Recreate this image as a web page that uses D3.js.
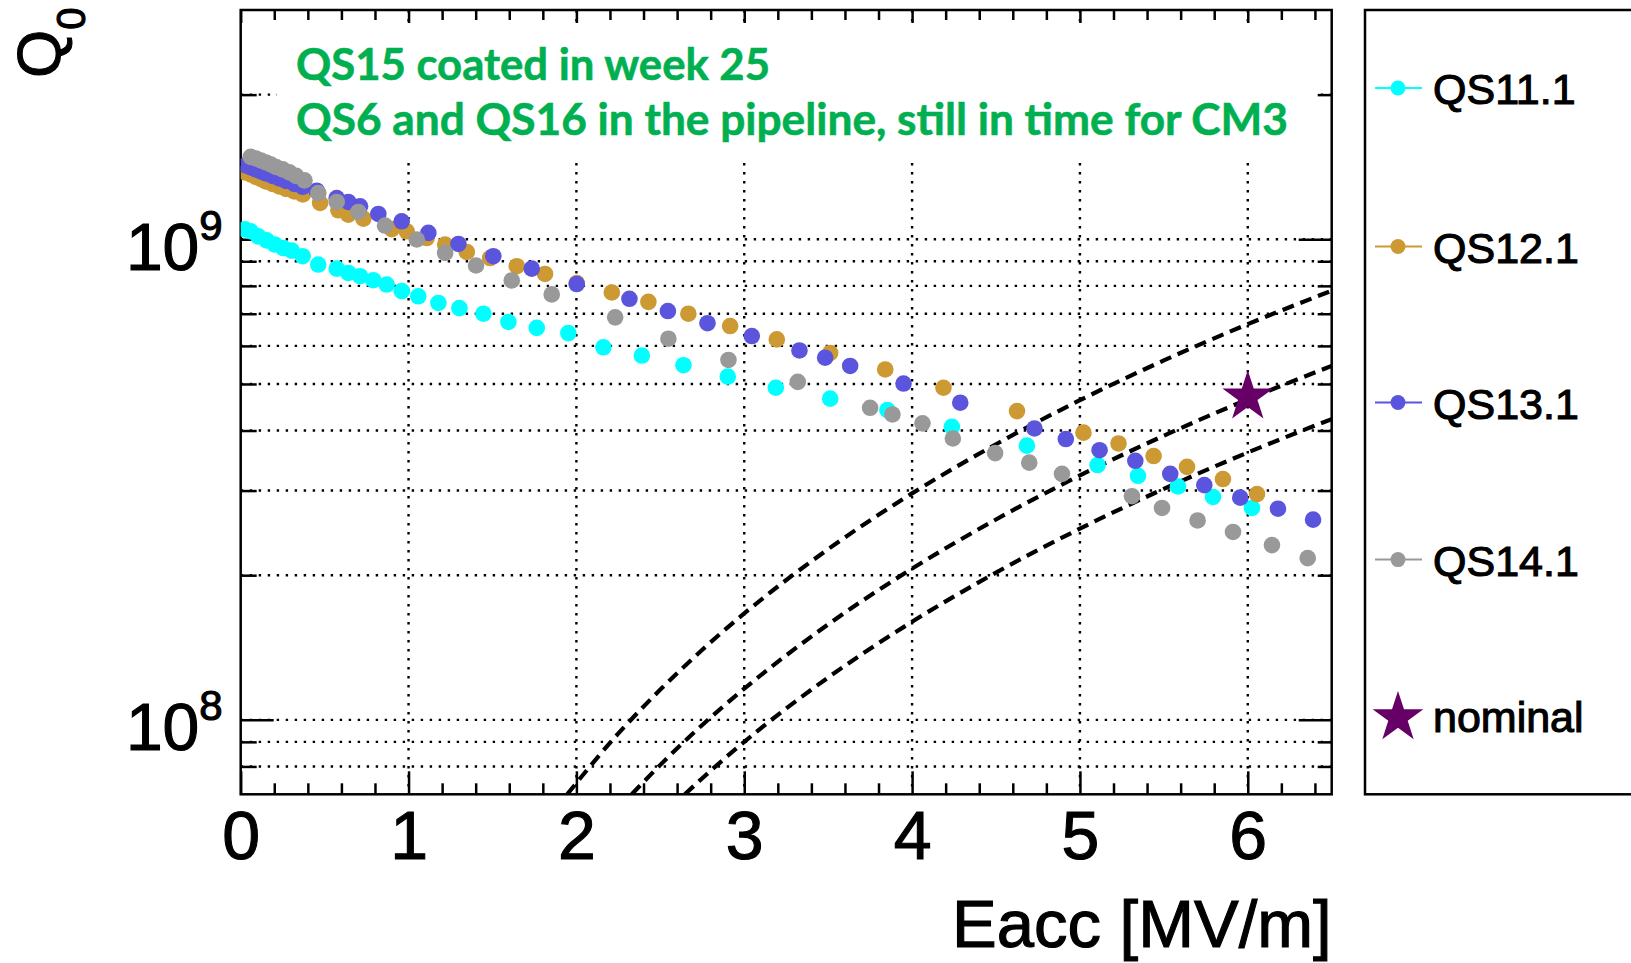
<!DOCTYPE html>
<html>
<head>
<meta charset="utf-8">
<script src="https://cdn.jsdelivr.net/npm/d3@7/dist/d3.min.js"></script>
<style>
body { margin: 0; background: #fff; }
svg { display: block; font-family: "Liberation Sans", Arial, sans-serif; }
.heavy { stroke: #000; stroke-width: 1.1; paint-order: stroke; }
</style>
</head>
<body>
<script>

// ---- data ----

var qs11E = [0.025, 0.06, 0.105, 0.155, 0.204, 0.254, 0.304, 0.369, 0.462, 0.572, 0.641, 0.711, 0.79, 0.87, 0.96, 1.058, 1.178, 1.303, 1.446, 1.595, 1.764, 1.952, 2.161, 2.39, 2.638, 2.902, 3.188, 3.512, 3.853, 4.237, 4.684, 5.105, 5.346, 5.584, 5.793, 6.025];
var qs11Q = [1.049e9, 1.039e9, 1.014e9, 9.95e8, 9.75e8, 9.59e8, 9.47e8, 9.22e8, 8.86e8, 8.69e8, 8.51e8, 8.38e8, 8.22e8, 8.05e8, 7.80e8, 7.61e8, 7.37e8, 7.19e8, 7.0e8, 6.73e8, 6.54e8, 6.38e8, 5.96e8, 5.73e8, 5.47e8, 5.18e8, 4.91e8, 4.66e8, 4.41e8, 4.07e8, 3.72e8, 3.39e8, 3.22e8, 3.06e8, 2.91e8, 2.76e8];

var qs12E = [0.03, 0.06, 0.09, 0.12, 0.15, 0.19, 0.23, 0.27, 0.32, 0.37, 0.473, 0.582, 0.641, 0.731, 0.9, 0.989, 1.108, 1.218, 1.347, 1.486, 1.645, 1.813, 2.002, 2.211, 2.429, 2.667, 2.916, 3.194, 3.512, 3.84, 4.187, 4.625, 5.021, 5.23, 5.439, 5.638, 5.852, 6.055];
var qs12Q = [1.377e9, 1.365e9, 1.348e9, 1.336e9, 1.32e9, 1.304e9, 1.288e9, 1.273e9, 1.258e9, 1.24e9, 1.19e9, 1.149e9, 1.125e9, 1.104e9, 1.05e9, 1.039e9, 1.006e9, 9.75e8, 9.41e8, 9.14e8, 8.79e8, 8.47e8, 8.11e8, 7.75e8, 7.41e8, 7.0e8, 6.60e8, 6.19e8, 5.80e8, 5.36e8, 4.91e8, 4.39e8, 3.96e8, 3.76e8, 3.54e8, 3.36e8, 3.17e8, 2.95e8];

var qs13E = [0.03, 0.06, 0.09, 0.12, 0.15, 0.19, 0.23, 0.27, 0.32, 0.37, 0.453, 0.572, 0.641, 0.711, 0.82, 0.959, 1.118, 1.297, 1.505, 1.734, 2.002, 2.316, 2.545, 2.781, 3.045, 3.329, 3.482, 3.631, 3.949, 4.287, 4.729, 4.916, 5.117, 5.33, 5.538, 5.741, 5.955, 6.18, 6.389];
var qs13Q = [1.425e9, 1.411e9, 1.398e9, 1.384e9, 1.371e9, 1.355e9, 1.339e9, 1.323e9, 1.304e9, 1.286e9, 1.262e9, 1.218e9, 1.196e9, 1.171e9, 1.129e9, 1.09e9, 1.031e9, 9.78e8, 9.22e8, 8.69e8, 8.07e8, 7.52e8, 7.09e8, 6.69e8, 6.29e8, 5.87e8, 5.67e8, 5.45e8, 5.01e8, 4.57e8, 4.04e8, 3.84e8, 3.64e8, 3.46e8, 3.25e8, 3.08e8, 2.90e8, 2.75e8, 2.61e8];

var qs14E = [0.06, 0.09, 0.12, 0.15, 0.18, 0.21, 0.25, 0.29, 0.33, 0.38, 0.462, 0.572, 0.701, 0.86, 1.049, 1.218, 1.402, 1.615, 1.853, 2.231, 2.548, 2.906, 3.319, 3.75, 3.883, 4.062, 4.243, 4.495, 4.698, 4.893, 5.31, 5.489, 5.701, 5.912, 6.144, 6.357];
var qs14Q = [1.484e9, 1.473e9, 1.459e9, 1.445e9, 1.431e9, 1.414e9, 1.398e9, 1.378e9, 1.355e9, 1.326e9, 1.248e9, 1.196e9, 1.14e9, 1.068e9, 9.99e8, 9.37e8, 8.82e8, 8.21e8, 7.68e8, 6.88e8, 6.21e8, 5.61e8, 5.05e8, 4.46e8, 4.32e8, 4.14e8, 3.85e8, 3.59e8, 3.43e8, 3.25e8, 2.92e8, 2.76e8, 2.60e8, 2.46e8, 2.31e8, 2.17e8];

var nominalE = 6;
var nominalQ = 4.7e8;

// dashed limit curves
var limit1E = [1.945, 2.25, 2.5, 2.75, 3, 3.5, 4, 4.5, 5, 5.5, 6, 6.5];
var limit1Q = [7.0e7, 9.37e7, 1.156e8, 1.399e8, 1.665e8, 2.266e8, 2.96e8, 3.746e8, 4.625e8, 5.596e8, 6.66e8, 7.816e8];
var limit2E = [2.33, 2.5, 2.75, 3, 3.5, 4, 4.5, 5, 5.5, 6, 6.5];
var limit2Q = [7.0e7, 8.06e7, 9.76e7, 1.161e8, 1.58e8, 2.064e8, 2.612e8, 3.225e8, 3.902e8, 4.644e8, 5.45e8];
var limit3E = [2.646, 2.75, 3, 3.5, 4, 4.5, 5, 5.5, 6, 6.5];
var limit3Q = [7.0e7, 7.56e7, 9.0e7, 1.225e8, 1.6e8, 2.025e8, 2.5e8, 3.025e8, 3.6e8, 4.225e8];

var xTickLabels = [0, 1, 2, 3, 4, 5, 6];
var yMajorTicks = [1e8, 1e9];
var yMinorTicks = [8e7, 9e7, 2e8, 3e8, 4e8, 5e8, 6e8, 7e8, 8e8, 9e8, 2e9];
var yGridLines = [8e7, 9e7, 1e8, 2e8, 3e8, 4e8, 5e8, 6e8, 7e8, 8e8, 9e8, 1e9, 2e9];
var xGridLines = [1, 2, 3, 4, 5, 6];

var seriesNames = ['QS11.1', 'QS12.1', 'QS13.1', 'QS14.1'];
var seriesColors = ['#00ffff', '#cc9933', '#5b55dd', '#999999'];
var noteLines = ['QS15 coated in week 25', 'QS6 and QS16 in the pipeline, still in time for CM3'];

// ---- layout ----

var width = 1631, height = 963;
var plot = { left: 240.7, right: 1331.7, top: 10, bottom: 794.3 };

var x = d3.scaleLinear().domain([0, 6.5]).range([plot.left, plot.right]);
var y = d3.scaleLog().domain([7e7, 3e9]).range([plot.bottom, plot.top]);

var svg = d3.select('body').append('svg')
    .attr('width', width)
    .attr('height', height);

svg.append('clipPath').attr('id', 'clip')
    .append('rect')
    .attr('x', plot.left).attr('y', plot.top)
    .attr('width', plot.right - plot.left).attr('height', plot.bottom - plot.top);

// grid
var grid = svg.append('g')
    .attr('stroke', '#000')
    .attr('stroke-width', 2.4)
    .attr('stroke-dasharray', '2.4 6.6');

grid.selectAll('.hgrid').data(yGridLines).enter().append('line')
    .attr('x1', plot.left).attr('x2', plot.right)
    .attr('y1', function(d) { return y(d); })
    .attr('y2', function(d) { return y(d); });

grid.selectAll('.vgrid').data(xGridLines).enter().append('line')
    .attr('y1', plot.top).attr('y2', plot.bottom)
    .attr('x1', function(d) { return x(d); })
    .attr('x2', function(d) { return x(d); });

// white box behind the note
svg.append('rect')
    .attr('x', 277).attr('y', 24)
    .attr('width', 1043).attr('height', 134)
    .attr('fill', '#fff');

svg.selectAll('.note').data(noteLines).enter().append('text')
    .attr('x', 296)
    .attr('y', function(d, i) { return 80 + i * 55; })
    .attr('font-family', 'Lato, "Open Sans", sans-serif')
    .attr('font-weight', 700)
    .attr('font-size', 44)
    .attr('fill', '#00b050')
    .attr('stroke', '#00b050')
    .attr('stroke-width', 0.6)
    .attr('textLength', function(d, i) { return i ? 992 : 474; })
    .attr('lengthAdjust', 'spacingAndGlyphs')
    .text(function(d) { return d; });

// axes
function styleAxis(g) {
    g.select('.domain').remove();
    g.selectAll('.tick line').attr('stroke', '#000').attr('stroke-width', 2.5);
    g.attr('font-family', null).attr('font-size', null);
}

var xMinor = d3.range(0.2, 6.5, 0.2).filter(function(d) { return Math.abs(d - Math.round(d)) > 0.01; });

svg.append('g')
    .attr('transform', 'translate(0,' + plot.bottom + ')')
    .call(d3.axisBottom(x).tickValues(xTickLabels).tickSizeInner(-23).tickSizeOuter(0).tickPadding(16).tickFormat(d3.format('d')))
    .call(styleAxis)
    .selectAll('text').attr('font-size', 68).attr('fill', '#000').attr('class', 'heavy');

svg.append('g')
    .attr('transform', 'translate(0,' + plot.bottom + ')')
    .call(d3.axisBottom(x).tickValues(xMinor).tickSizeInner(-11).tickSizeOuter(0).tickFormat(''))
    .call(styleAxis);

svg.append('g')
    .attr('transform', 'translate(0,' + plot.top + ')')
    .call(d3.axisTop(x).tickValues(xTickLabels).tickSizeInner(-13).tickSizeOuter(0).tickFormat(''))
    .call(styleAxis);

svg.append('g')
    .attr('transform', 'translate(0,' + plot.top + ')')
    .call(d3.axisTop(x).tickValues(xMinor).tickSizeInner(-10).tickSizeOuter(0).tickFormat(''))
    .call(styleAxis);

var yLeft = svg.append('g')
    .attr('transform', 'translate(' + plot.left + ',0)')
    .call(d3.axisLeft(y).tickValues(yMajorTicks).tickSizeInner(-33).tickSizeOuter(0).tickPadding(18).tickFormat(''))
    .call(styleAxis);

yLeft.selectAll('.tick text')
    .attr('dy', null)
    .attr('y', 30)
    .attr('fill', '#000')
    .attr('class', 'heavy')
    .each(function(d) {
        var t = d3.select(this);
        t.append('tspan').attr('font-size', 66).text('10');
        t.append('tspan').attr('font-size', 42).attr('dy', -30).text(Math.round(Math.log10(d)));
    });

svg.append('g')
    .attr('transform', 'translate(' + plot.left + ',0)')
    .call(d3.axisLeft(y).tickValues(yMinorTicks).tickSizeInner(-16).tickSizeOuter(0).tickFormat(''))
    .call(styleAxis);

svg.append('g')
    .attr('transform', 'translate(' + plot.right + ',0)')
    .call(d3.axisRight(y).tickValues(yMajorTicks).tickSizeInner(-33).tickSizeOuter(0).tickFormat(''))
    .call(styleAxis);

svg.append('g')
    .attr('transform', 'translate(' + plot.right + ',0)')
    .call(d3.axisRight(y).tickValues(yMinorTicks).tickSizeInner(-14).tickSizeOuter(0).tickFormat(''))
    .call(styleAxis);

// frame
svg.append('rect')
    .attr('x', plot.left).attr('y', plot.top)
    .attr('width', plot.right - plot.left).attr('height', plot.bottom - plot.top)
    .attr('fill', 'none')
    .attr('stroke', '#000')
    .attr('stroke-width', 2.5);

// dashed limit curves
var limitLine = d3.line()
    .x(function(d) { return x(d[0]); })
    .y(function(d) { return y(d[1]); })
    .curve(d3.curveMonotoneX);

var limits = [[limit1E, limit1Q], [limit2E, limit2Q], [limit3E, limit3Q]];

svg.append('g').attr('clip-path', 'url(#clip)')
    .selectAll('path').data(limits).enter().append('path')
    .attr('d', function(d) { return limitLine(d3.zip(d[0], d[1])); })
    .attr('fill', 'none')
    .attr('stroke', '#000')
    .attr('stroke-width', 4.2)
    .attr('stroke-dasharray', '12 7');

// measurement series
var series = [
    { name: seriesNames[0], color: seriesColors[0], e: qs11E, q: qs11Q },
    { name: seriesNames[1], color: seriesColors[1], e: qs12E, q: qs12Q },
    { name: seriesNames[2], color: seriesColors[2], e: qs13E, q: qs13Q },
    { name: seriesNames[3], color: seriesColors[3], e: qs14E, q: qs14Q }
];

var pts = svg.append('g').attr('clip-path', 'url(#clip)');

series.forEach(function(s) {
    pts.append('g').attr('fill', s.color)
        .selectAll('circle').data(d3.zip(s.e, s.q)).enter().append('circle')
        .attr('cx', function(d) { return x(d[0]); })
        .attr('cy', function(d) { return y(d[1]); })
        .attr('r', 8.3);
});

var star = d3.symbol().type(d3.symbolStar).size(800);

svg.append('path')
    .attr('d', star())
    .attr('transform', 'translate(' + x(nominalE) + ',' + y(nominalQ) + ')')
    .attr('fill', '#660066');

// axis titles
var yTitle = svg.append('text')
    .attr('transform', 'translate(60,78) rotate(-90)')
    .attr('font-size', 62)
    .attr('fill', '#000')
    .attr('class', 'heavy')
    .text('Q');
yTitle.append('tspan').attr('font-size', 40).attr('dy', 25).text('0');

svg.append('text')
    .attr('x', plot.right)
    .attr('y', 947)
    .attr('text-anchor', 'end')
    .attr('font-size', 67)
    .attr('fill', '#000')
    .attr('class', 'heavy')
    .text('Eacc [MV/m]');

// legend
var legend = svg.append('g');

legend.append('rect')
    .attr('x', 1365).attr('y', plot.top)
    .attr('width', 300).attr('height', plot.bottom - plot.top)
    .attr('fill', '#fff')
    .attr('stroke', '#000')
    .attr('stroke-width', 2.5);

var rowY = [88, 246.5, 402.5, 559.6, 715.6];

series.forEach(function(s, i) {
    var row = legend.append('g').attr('transform', 'translate(0,' + rowY[i] + ')');
    row.append('line')
        .attr('x1', 1375).attr('x2', 1422)
        .attr('stroke', s.color).attr('stroke-width', 2);
    row.append('circle').attr('cx', 1398).attr('r', 7.5).attr('fill', s.color);
    row.append('text')
        .attr('x', 1433).attr('y', 16)
        .attr('font-size', 43)
        .attr('fill', '#000')
        .attr('class', 'heavy')
        .text(s.name);
});

var starRow = legend.append('g').attr('transform', 'translate(0,' + rowY[4] + ')');
starRow.append('path')
    .attr('d', star())
    .attr('transform', 'translate(1398,2)')
    .attr('fill', '#660066');
starRow.append('text')
    .attr('x', 1433).attr('y', 16)
    .attr('font-size', 43)
    .attr('fill', '#000')
    .attr('class', 'heavy')
    .text('nominal');

</script>
</body>
</html>
